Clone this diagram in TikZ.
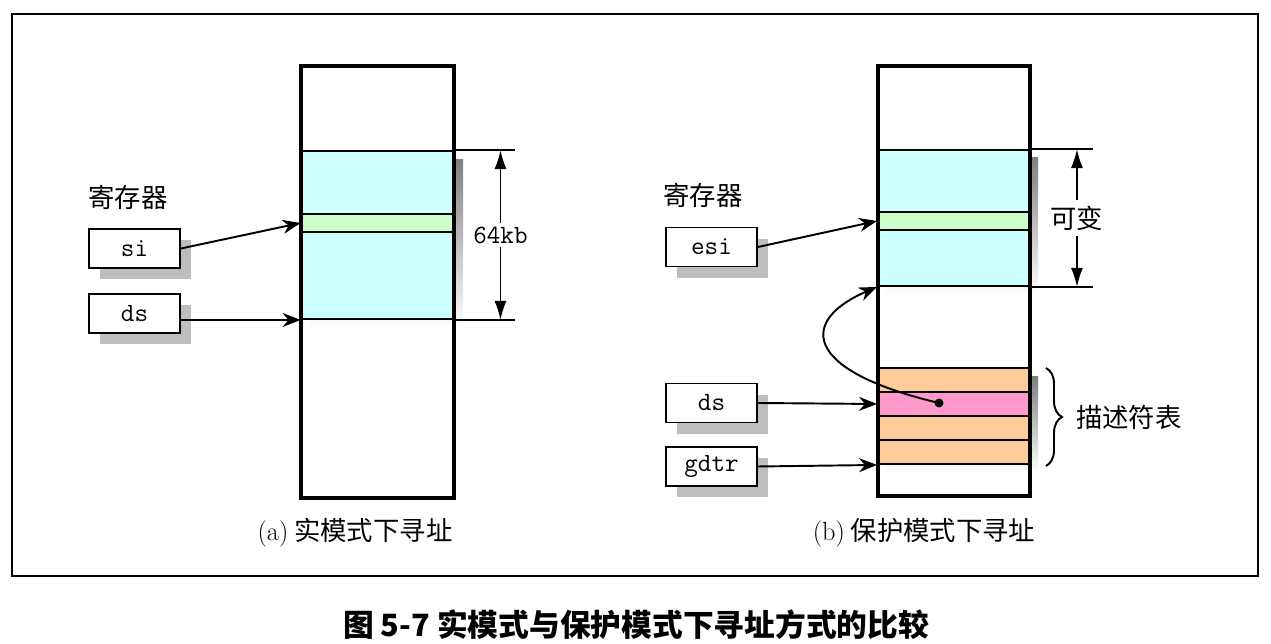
\documentclass[tikz,border=0pt]{standalone}
\usepackage{fontspec}
\newfontfamily\cjk{Noto Sans CJK SC}
\usetikzlibrary{arrows.meta,decorations.pathreplacing,shadows}
\definecolor{segblue}{HTML}{CCFFFF}
\definecolor{seggreen}{HTML}{CCFFCC}
\definecolor{segorange}{HTML}{FFCC99}
\definecolor{segpink}{HTML}{FF99CC}
\definecolor{shade}{HTML}{BEBEBE}
\begin{document}
\begin{tikzpicture}[x=0.02cm,y=-0.02cm,
    txt/.style={font=\fontsize{15}{17}\selectfont\cjk},
    reg/.style={draw,line width=1.1pt,fill=white,minimum width=1.82cm,minimum height=0.78cm,
      inner sep=0pt,font=\fontsize{15}{17}\selectfont\ttfamily,
      drop shadow={shadow xshift=0.22cm,shadow yshift=-0.23cm,fill=shade,opacity=1}},
    seg/.style={draw,line width=1.1pt,inner sep=0pt,minimum width=3.04cm},
    col/.style={line width=2.3pt},
    arr/.style={line width=1.1pt,-{Stealth[length=0.36cm,width=0.28cm]}},
    dim/.style={line width=1pt,{Latex[length=0.38cm,width=0.24cm]}-{Latex[length=0.38cm,width=0.24cm]}},
  ]
  \useasboundingbox (0,0) rectangle (1271,644);
  \draw[line width=1.1pt] (12,14) rectangle (1258,576);

  % (a) real mode
  \node[txt] (regA) at (128,197) {寄存器};
  \node[reg] (si) at (134.5,248.5) {si};
  \node[reg] (dsA) at (134.5,313.5) {ds};
  \fill[shade] (310,160) rectangle (463,327);
  \node[seg,fill=segblue,minimum height=3.36cm] (blueA) at (377.5,235) {};
  \node[seg,fill=seggreen,minimum height=0.36cm] (greenA) at (377.5,223) {};
  \draw[col] (301,66) rectangle (454,498);
  \draw[arr] (si.east) -- (greenA.west);
  \draw[arr] (dsA.east |- blueA.south west) -- (blueA.south west);
  \draw[line width=1pt] (blueA.north east) -- ++(61,0) coordinate (topA);
  \draw[line width=1pt] (blueA.south east) -- ++(61,0) coordinate (botA);
  \draw[dim] ([xshift=-0.3cm]topA) -- node[fill=white,inner sep=2pt,font=\fontsize{15}{17}\selectfont\ttfamily] (sizeA) {64kb} ([xshift=-0.3cm]botA);
  \node[txt] (capA) at (355,533) {{\rmfamily(a)}\ 实模式下寻址};

  % (b) protected mode
  \node[txt] (regB) at (703,195) {寄存器};
  \node[reg] (esi) at (711.5,247) {esi};
  \node[reg] (dsB) at (711.5,403) {ds};
  \node[reg] (gdtr) at (711.5,466.5) {gdtr};
  \fill[shade] (886,158) rectangle (1038,294);
  \fill[shade] (886,377) rectangle (1038,472);
  \node[seg,fill=segblue,minimum height=2.72cm] (blueB) at (954,218) {};
  \node[seg,fill=seggreen,minimum height=0.36cm] (greenB) at (954,221) {};
  \node[seg,fill=segorange,minimum height=0.48cm] (row1) at (954,380) {};
  \node[seg,fill=segpink,minimum height=0.48cm] (row2) at (954,404) {};
  \node[seg,fill=segorange,minimum height=0.48cm] (row3) at (954,428) {};
  \node[seg,fill=segorange,minimum height=0.48cm] (row4) at (954,452) {};
  \draw[col] (878,66) rectangle (1030,496);
  \draw[arr] (esi.east) -- (greenB.west);
  \draw[arr] (dsB.east) -- (row2.west);
  \draw[arr] (gdtr.east) -- (row4.south west);
  \fill (939,403) circle (4.5) coordinate (sel);
  \draw[arr] (sel) .. controls (800,370) and (800,320) .. (blueB.south west);
  \draw[line width=1pt] (blueB.north east) -- ++(62,0) coordinate (topB);
  \draw[line width=1pt] (blueB.south east) -- ++(62,0) coordinate (botB);
  \draw[dim] ([xshift=-0.32cm]topB) -- node[fill=white,inner sep=3pt,txt] (sizeB) {可变} ([xshift=-0.32cm]botB);
  \draw[line width=1.1pt,decorate,decoration={brace,amplitude=0.32cm}] (1046,368) -- (1046,466) coordinate (braceEnd);
  \node[txt,anchor=west] (tbl) at (1070,417) {描述符表};
  \node[txt] (capB) at (924,533) {{\rmfamily(b)}\ 保护模式下寻址};

  \node[font=\fontsize{17.5}{20}\selectfont\cjk\bfseries] (title) at (636,625) {图 5-7 实模式与保护模式下寻址方式的比较};
\end{tikzpicture}
\end{document}
